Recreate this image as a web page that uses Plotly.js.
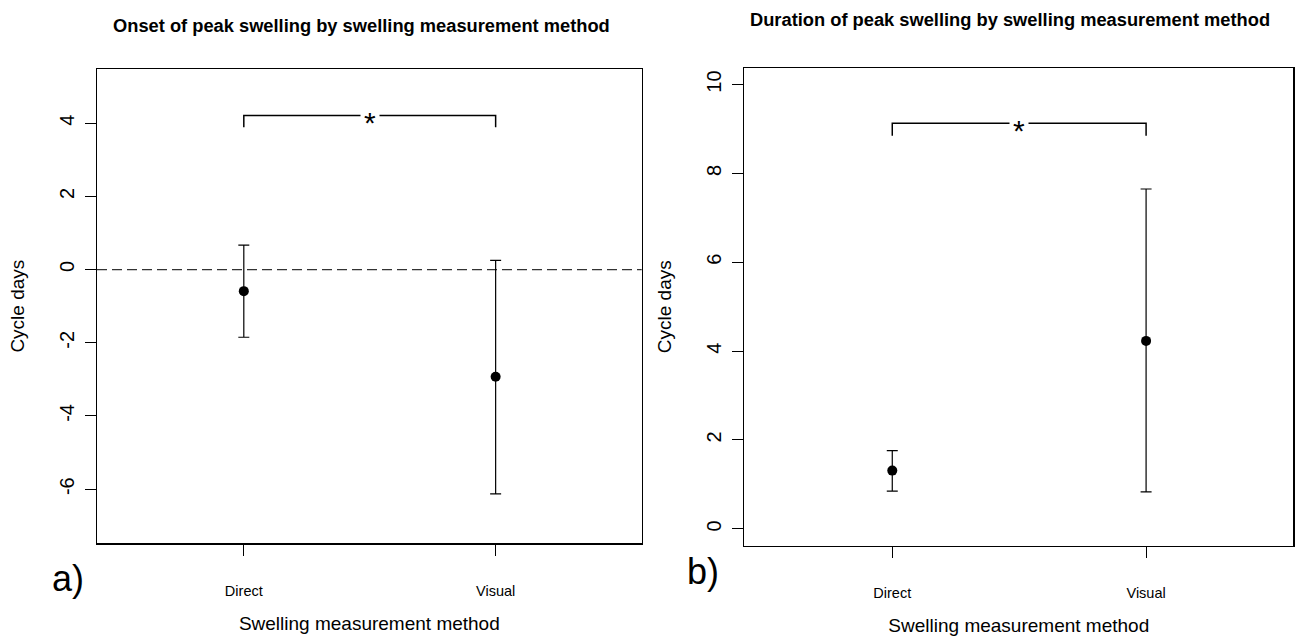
<!DOCTYPE html>
<html><head><meta charset="utf-8">
<script src="https://cdn.plot.ly/plotly-3.0.1.min.js"></script>
<style>body{margin:0;padding:0;background:#fff}#chart{width:1296px;height:636px}</style>
</head><body><div id="chart"></div>
<script>
// Data
const methods = ['Direct', 'Visual'];
const methodPos = [1, 2];
// Panel a: onset of peak swelling
const onsetMean = [-0.59, -2.93];
const onsetUpper = [0.67, 0.25];
const onsetLower = [-1.85, -6.13];
const onsetBracketTop = 4.21;
const onsetBracketFoot = 3.89;
// Panel b: duration of peak swelling
const durMean = [1.31, 4.23];
const durUpper = [1.76, 7.65];
const durLower = [0.85, 0.83];
const durBracketTop = 9.13;
const durBracketFoot = 8.85;

const yTicksA = [-6, -4, -2, 0, 2, 4];
const yTicksB = [0, 2, 4, 6, 8, 10];

function errPlus(mean, up){ return mean.map((m,i)=>up[i]-m); }
function errMinus(mean, lo){ return mean.map((m,i)=>m-lo[i]); }

const fontFam = 'Liberation Sans, Arial, sans-serif';

function pointTrace(mean, up, lo, xa, ya){
  return {
    x: methodPos, y: mean, xaxis: xa, yaxis: ya, type: 'scatter', mode: 'markers',
    marker: {color: 'black', size: 10},
    error_y: {type: 'data', symmetric: false, array: errPlus(mean, up), arrayminus: errMinus(mean, lo),
      color: 'black', thickness: 1.2, width: 5.5},
    showlegend: false, hoverinfo: 'skip'
  };
}
function bracketTrace(top, foot, xa, ya){
  return {
    x: [methodPos[0], methodPos[0], methodPos[1], methodPos[1]],
    y: [foot, top, top, foot], xaxis: xa, yaxis: ya, type: 'scatter', mode: 'lines',
    line: {color: 'black', width: 1.5}, showlegend: false, hoverinfo: 'skip'
  };
}

const traces = [
  bracketTrace(onsetBracketTop, onsetBracketFoot, 'x', 'y'),
  pointTrace(onsetMean, onsetUpper, onsetLower, 'x', 'y'),
  bracketTrace(durBracketTop, durBracketFoot, 'x2', 'y2'),
  pointTrace(durMean, durUpper, durLower, 'x2', 'y2')
];

const W = 1296, H = 636;
function xax(domain, standoff){
  return {
    domain: domain, range: [0.417, 2.58], tickvals: methodPos, ticktext: methods,
    showline: true, mirror: true, linecolor: 'black', linewidth: 1.2,
    ticks: 'outside', ticklen: 11, tickcolor: 'black', tickwidth: 1,
    showgrid: false, zeroline: false, tickfont: {family: fontFam, size: 14.5, color: 'black'},
    ticklabelstandoff: 23,
    title: {text: 'Swelling measurement method', font: {family: fontFam, size: 19, color: 'black'}, standoff: standoff},
    fixedrange: true
  };
}
function yax(domain, range, ticks, anchor){
  return {
    domain: domain, range: range, tickvals: ticks, ticktext: ticks.map(v => String(v)), anchor: anchor,
    showline: true, mirror: true, linecolor: 'black', linewidth: 1.2,
    ticks: 'outside', ticklen: 11, tickcolor: 'black', tickwidth: 1,
    showgrid: false, zeroline: false, tickangle: -90,
    tickfont: {family: fontFam, size: 20, color: 'black'},
    ticklabelstandoff: 3,
    title: {text: 'Cycle days', font: {family: fontFam, size: 19, color: 'black'}, standoff: 26},
    fixedrange: true
  };
}

const layout = {
  width: W, height: H, paper_bgcolor: 'white', plot_bgcolor: 'white',
  margin: {l: 0, r: 0, t: 0, b: 0},
  showlegend: false,
  xaxis: Object.assign(xax([97/W, 641.7/W], 18), {anchor: 'y'}),
  yaxis: yax([1-543.3/H, 1-69/H], [-7.48, 5.48], yTicksA, 'x'),
  xaxis2: Object.assign(xax([744.3/W, 1293.3/W], 20), {anchor: 'y2'}),
  yaxis2: yax([1-545.7/H, 1-67.7/H], [-0.38, 10.38], yTicksB, 'x2'),
  shapes: [
    {type: 'line', xref: 'x domain', yref: 'y', x0: 0, x1: 1, y0: 0, y1: 0,
     line: {color: '#333', width: 1.2, dash: '10px,5px'}, layer: 'below'}
  ],
  annotations: [
    {text: '<b>Onset of peak swelling by swelling measurement method</b>', xref: 'paper', yref: 'paper',
     x: 361/W, y: 1-25/H, xanchor: 'center', yanchor: 'middle', showarrow: false,
     font: {family: fontFam, size: 18.3, color: 'black'}},
    {text: '<b>Duration of peak swelling by swelling measurement method</b>', xref: 'paper', yref: 'paper',
     x: 1010/W, y: 1-20/H, xanchor: 'center', yanchor: 'middle', showarrow: false,
     font: {family: fontFam, size: 18.3, color: 'black'}},
    {text: '*', xref: 'x', yref: 'y', x: 1.5, y: onsetBracketTop, showarrow: false,
     xanchor: 'center', yanchor: 'middle',
     bgcolor: 'white', borderpad: 3, yshift: -7, font: {family: fontFam, size: 30, color: 'black'}},
    {text: '*', xref: 'x2', yref: 'y2', x: 1.5, y: durBracketTop, showarrow: false,
     xanchor: 'center', yanchor: 'middle',
     bgcolor: 'white', borderpad: 3, yshift: -7, font: {family: fontFam, size: 30, color: 'black'}},
    {text: 'a)', xref: 'paper', yref: 'paper', x: 68/W, y: 1-578/H, xanchor: 'center', yanchor: 'middle',
     showarrow: false, font: {family: fontFam, size: 36, color: 'black'}},
    {text: 'b)', xref: 'paper', yref: 'paper', x: 703/W, y: 1-571/H, xanchor: 'center', yanchor: 'middle',
     showarrow: false, font: {family: fontFam, size: 36, color: 'black'}}
  ]
};

Plotly.newPlot('chart', traces, layout, {displayModeBar: false, staticPlot: true});
</script></body></html>
